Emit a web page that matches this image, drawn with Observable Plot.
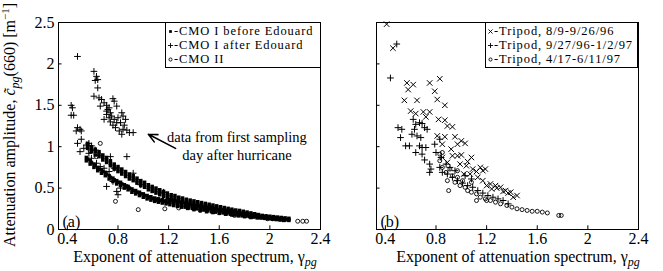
<!DOCTYPE html>
<html><head><meta charset="utf-8">
<script src="https://cdn.jsdelivr.net/npm/d3@7"></script>
<script src="https://cdn.jsdelivr.net/npm/@observablehq/plot@0.6"></script>
<style>
body{margin:0;background:#fff;}
#fig{position:relative;width:663px;height:271px;font-family:'Liberation Serif','DejaVu Serif',serif;color:#000;overflow:hidden;}
.panel{position:absolute;top:0;}
.legend{position:absolute;border:1px solid #000;background:#fff;font-size:12.5px;letter-spacing:0.9px;line-height:14px;padding:1px 0 1px 1px;box-sizing:border-box;white-space:nowrap;}
.legend .row{display:flex;align-items:center;height:14px;}
.legend svg{flex:none;}
</style></head><body><div id="fig"></div>
<script>
// ---- axes ----
const xTicks = [0.4, 0.8, 1.2, 1.6, 2, 2.4];
const yTicks = [0, 0.5, 1, 1.5, 2, 2.5];
const xDomain = [0.33, 2.4];
const yDomain = [0, 2.5];

// ---- panel (a) data ----
const cmoBefore = [
[0.56,1.04],[0.56,1.01],[0.56,0.98],[0.59,1.00],[0.59,0.97],[0.59,0.94],[0.62,0.97],[0.62,0.94],[0.62,0.90],
[0.65,0.94],[0.65,0.91],[0.65,0.88],[0.68,0.90],[0.68,0.87],[0.68,0.84],[0.71,0.87],[0.71,0.84],[0.71,0.81],
[0.74,0.83],[0.74,0.80],[0.74,0.77],[0.77,0.79],[0.77,0.76],[0.77,0.73],[0.80,0.76],[0.80,0.73],[0.80,0.70],
[0.83,0.73],[0.83,0.70],[0.83,0.67],[0.86,0.70],[0.86,0.67],[0.86,0.64],[0.89,0.67],[0.89,0.64],[0.89,0.61],
[0.92,0.65],[0.92,0.62],[0.92,0.59],[0.95,0.62],[0.95,0.59],[0.95,0.56],[0.98,0.59],[0.98,0.56],[0.98,0.53],
[1.01,0.57],[1.01,0.54],[1.01,0.51],[1.04,0.54],[1.04,0.51],[1.04,0.48],[1.07,0.52],[1.07,0.49],[1.07,0.46],
[1.10,0.50],[1.10,0.47],[1.10,0.44],[1.13,0.48],[1.13,0.45],[1.13,0.42],[1.16,0.46],[1.16,0.43],[1.16,0.40],
[1.19,0.44],[1.19,0.41],[1.19,0.38],[1.22,0.42],[1.22,0.39],[1.22,0.36],[1.25,0.41],[1.25,0.38],[1.25,0.35],
[1.28,0.39],[1.28,0.365],[1.28,0.34],[1.31,0.38],[1.31,0.355],[1.31,0.33],[1.34,0.365],[1.34,0.34],[1.34,0.315],
[1.37,0.355],[1.37,0.33],[1.37,0.305],[1.40,0.345],[1.40,0.32],[1.40,0.295],[1.43,0.335],[1.43,0.31],[1.43,0.285],
[1.46,0.325],[1.46,0.30],[1.46,0.275],[1.49,0.315],[1.49,0.29],[1.49,0.265],[1.52,0.305],[1.52,0.28],[1.52,0.255],
[1.55,0.295],[1.55,0.27],[1.55,0.245],[1.58,0.285],[1.58,0.26],[1.58,0.24],[1.61,0.275],[1.61,0.25],[1.61,0.23],
[1.64,0.265],[1.64,0.24],[1.64,0.22],[1.67,0.255],[1.67,0.235],[1.67,0.215],[1.70,0.245],[1.70,0.225],[1.70,0.205],
[1.73,0.235],[1.73,0.215],[1.73,0.195],[1.76,0.23],[1.76,0.21],[1.76,0.19],[1.79,0.22],[1.79,0.20],[1.79,0.18],
[1.82,0.21],[1.82,0.19],[1.82,0.175],[1.85,0.20],[1.85,0.18],[1.85,0.165],[1.88,0.19],[1.88,0.175],[1.88,0.16],
[1.91,0.18],[1.91,0.165],[1.91,0.15],[1.94,0.17],[1.94,0.155],[1.94,0.145],[1.97,0.165],[1.97,0.15],[1.97,0.14],
[2.00,0.16],[2.00,0.145],[2.00,0.135],[2.03,0.155],[2.03,0.14],[2.03,0.13],[2.06,0.15],[2.06,0.135],[2.06,0.125],
[2.09,0.145],[2.09,0.13],[2.09,0.12],[2.12,0.14],[2.12,0.125],[2.12,0.115],[2.15,0.135],[2.15,0.12],[2.15,0.11],
[0.55,0.87],[0.55,0.83],[0.58,0.83],[0.58,0.79],[0.61,0.79],[0.61,0.75],[0.64,0.75],[0.64,0.71],[0.67,0.72],[0.67,0.68],
[0.70,0.69],[0.70,0.65],[0.73,0.65],[0.73,0.61],[0.76,0.62],[0.76,0.58],[0.79,0.59],[0.79,0.55],[0.82,0.57],[0.82,0.53],
[0.85,0.54],[0.85,0.50],[0.88,0.52],[0.88,0.48],[0.91,0.49],[0.91,0.45],[0.94,0.47],[0.94,0.43],[0.97,0.45],[0.97,0.41],
[1.00,0.43],[1.00,0.39],[1.03,0.41],[1.03,0.37],[1.06,0.395],[1.06,0.355],[1.09,0.38],[1.09,0.34],[1.12,0.37],[1.12,0.33],
[1.15,0.36],[1.15,0.32],[1.18,0.35],[1.18,0.31],[1.21,0.34],[1.21,0.30],[1.24,0.33],[1.24,0.29],[1.27,0.32],[1.27,0.28],
[1.30,0.31],[1.30,0.27],[1.35,0.295],[1.35,0.255],[1.40,0.28],[1.40,0.24],[1.45,0.27],[1.45,0.23],[1.50,0.255],[1.50,0.215],
[1.55,0.245],[1.55,0.205],[1.60,0.235],[1.60,0.195],[1.65,0.225],[1.65,0.185],[1.70,0.215],[1.70,0.175],[1.75,0.205],[1.75,0.165],
[1.80,0.195],[1.80,0.155],[1.85,0.185],[1.85,0.145],[1.90,0.175],[1.90,0.14],
[0.56,0.85],[0.59,0.81],[0.62,0.77],[0.65,0.73],[0.68,0.70],[0.71,0.67],[0.74,0.63],[0.77,0.60],[0.80,0.57],[0.83,0.55],
[0.86,0.52],[0.89,0.50],[0.92,0.47],[0.95,0.45],[0.98,0.43],[1.01,0.41],[1.04,0.39],[1.07,0.375],[1.10,0.36],[1.13,0.35],
[1.16,0.34],[1.19,0.33],
[1.21,0.36],[1.21,0.33],[1.24,0.35],[1.24,0.32],[1.27,0.34],[1.27,0.31],[1.30,0.33],[1.30,0.30],[1.33,0.32],[1.33,0.29],
[1.33,0.27],[1.36,0.31],[1.36,0.285],[1.36,0.26],[1.39,0.30],[1.39,0.275],[1.39,0.255],[1.42,0.29],[1.42,0.27],[1.42,0.25],
[1.45,0.285],[1.45,0.26],[1.48,0.275],[1.48,0.25],[1.48,0.235],[1.51,0.265],[1.51,0.245],[1.51,0.225],[1.54,0.26],[1.54,0.235],
[1.54,0.215],[1.57,0.25],[1.57,0.23],[1.57,0.21],[1.60,0.24],[1.60,0.22],[1.63,0.235],[1.63,0.215],[1.63,0.20],[1.66,0.225],
[1.66,0.205],[1.66,0.19],[1.69,0.215],[1.69,0.20],[1.69,0.185],[1.72,0.21],[1.72,0.19],[1.72,0.175],[1.75,0.20],[1.75,0.185],
[1.78,0.195],[1.78,0.18],[1.78,0.165],[1.81,0.185],[1.81,0.17],[1.81,0.16],[1.84,0.18],[1.84,0.165],[1.84,0.155],[1.87,0.17],
[1.87,0.16],[1.87,0.15],[1.90,0.165],[1.90,0.15],[1.93,0.16],[1.93,0.145],[1.93,0.14],[1.96,0.155],[1.96,0.14],[1.96,0.135],
[1.99,0.15],[1.99,0.14],[1.99,0.13],[2.02,0.145],[2.02,0.135],[2.02,0.125],[2.05,0.14],[2.05,0.13],[2.05,0.12],[2.08,0.135],
[2.08,0.125],[2.08,0.115],[2.11,0.13],[2.11,0.12],[2.11,0.11]
];
const cmoAfter = [
[0.48,2.09],[0.61,1.91],[0.63,1.85],[0.64,1.81],[0.62,1.80],[0.64,1.71],[0.61,1.61],[0.65,1.59],[0.67,1.57],[0.69,1.53],
[0.71,1.50],[0.76,1.58],[0.77,1.55],[0.79,1.49],[0.73,1.47],[0.71,1.43],[0.74,1.41],[0.71,1.39],[0.75,1.37],[0.73,1.35],
[0.69,1.33],[0.77,1.33],[0.79,1.29],[0.76,1.26],[0.83,1.41],[0.84,1.37],[0.86,1.33],[0.82,1.29],[0.85,1.26],[0.84,1.21],
[0.81,1.19],[0.87,1.20],[0.89,1.17],[0.92,1.17],[0.83,1.15],[0.78,1.23],[0.80,1.35],[0.72,1.45],[0.66,1.49],[0.74,1.30],
[0.43,1.50],[0.44,1.47],[0.43,1.38],[0.45,1.38],[0.48,1.23],[0.50,1.21],[0.47,1.19],[0.51,1.19],[0.48,1.04],[0.51,1.09],
[0.55,1.02],[0.53,0.98],[0.57,1.04],[0.59,1.01],[0.62,0.96],[0.50,0.94],[0.57,0.92],[0.59,0.86],[0.63,0.80],[0.66,0.76],
[0.69,0.74],[0.73,0.70],[0.71,0.52],[0.79,0.46],[0.80,0.42],[0.82,0.50],[0.76,0.58],[0.87,0.88],[0.74,0.88],[0.77,0.74],
[0.92,0.68],[0.98,0.54],[1.16,0.45]
];
const cmoII = [
[0.66,1.04],[0.78,0.34],[0.96,0.24],[1.17,0.25],[1.28,0.26],[2.22,0.10],[2.26,0.10],[2.29,0.10],[1.98,0.13],[2.02,0.13],
[1.45,0.23],[1.72,0.17],[1.11,0.36],[0.87,0.52],[0.63,0.88],[0.58,0.95]
];

// ---- panel (b) data ----
const tripodAug = [
[0.41,2.48],[0.46,2.19],[0.57,1.77],[0.62,1.75],[0.58,1.69],[0.75,1.77],[0.83,1.82],[0.79,1.67],[0.55,1.56],[0.65,1.56],
[0.81,1.57],[0.87,1.50],[0.70,1.42],[0.75,1.42],[0.72,1.36],[0.82,1.33],[0.87,1.32],[0.93,1.24],[0.89,1.25],[0.81,1.13],
[0.87,1.12],[0.95,1.12],[1.00,1.07],[1.03,1.04],[0.97,1.03],[0.85,1.03],[0.97,0.89],[0.93,0.89],[1.00,0.90],[1.08,0.87],
[0.85,0.87],[0.89,0.81],[0.99,0.79],[1.04,0.77],[1.09,0.73],[1.15,0.75],[1.17,0.71],[1.19,0.73],[1.02,0.67],[1.07,0.67],
[1.13,0.63],[1.17,0.59],[1.23,0.55],[1.27,0.53],[1.31,0.51],[1.35,0.47],[1.39,0.45],[1.41,0.39],[1.20,0.53],[1.24,0.49],
[0.60,1.43],[0.64,1.40],[0.92,0.97],[1.05,0.82],[1.12,0.70],[1.28,0.50],[1.33,0.46],[1.37,0.44],[1.44,0.41]
];
const tripodSep = [
[0.49,2.24],[0.44,1.83],[0.50,1.23],[0.53,1.21],[0.52,1.11],[0.56,1.01],[0.59,1.01],[0.61,1.15],[0.63,1.21],[0.64,1.27],
[0.62,1.33],[0.67,1.29],[0.69,1.28],[0.71,1.23],[0.73,1.21],[0.65,1.13],[0.68,1.11],[0.67,1.01],[0.69,0.99],[0.72,0.99],
[0.64,0.93],[0.69,0.91],[0.71,0.84],[0.75,0.79],[0.76,0.73],[0.75,0.69],[0.79,1.03],[0.83,1.09],[0.80,0.93],[0.84,0.87],
[0.88,0.79],[0.91,0.75],[0.95,0.71],[0.83,0.75],[0.85,0.69],[0.89,0.67],[0.93,0.63],[0.97,0.59],[1.01,0.56],[1.05,0.53],
[1.09,0.51],[1.13,0.47],[1.17,0.44],[1.21,0.41],[1.25,0.39],[1.29,0.37],[1.33,0.35],[1.37,0.31],[1.03,0.65],[1.08,0.61]
];
const tripodApr = [
[0.83,0.83],[0.85,0.75],[0.88,0.69],[0.91,0.73],[0.89,0.59],[0.90,0.47],[0.93,0.65],[0.97,0.63],[0.95,0.57],[0.99,0.53],
[1.03,0.51],[1.05,0.47],[1.08,0.45],[1.12,0.43],[1.15,0.39],[1.19,0.37],[1.23,0.35],[1.27,0.33],[1.31,0.31],[1.36,0.29],
[1.40,0.27],[1.44,0.25],[1.48,0.24],[1.52,0.23],[1.56,0.22],[1.60,0.22],[1.64,0.21],[1.68,0.20],[1.77,0.17],[1.79,0.17],
[1.12,0.35],[1.20,0.35],[1.01,0.59],[1.08,0.57],[0.97,0.71],[0.83,0.91],[0.85,0.93]
];

// ---- text ----
const legendA = ["-CMO I before Edouard", "-CMO I after Edouard", "-CMO II"];
const legendB = ["-Tripod, 8/9-9/26/96", "-Tripod, 9/27/96-1/2/97", "-Tripod, 4/17-6/11/97"];
const annotationLines = [{text: "data from first sampling", x: 1.74, y: 1.11}, {text: "day after hurricane", x: 1.74, y: 0.90}];
const annotationArrow = [{x1: 1.255, y1: 0.98, x2: 1.04, y2: 1.15}];

const FONT = "'Liberation Serif','DejaVu Serif',serif";
const px = d => d[0], py = d => d[1];

function panel({width, marginLeft, marginRight, showY, label, series, extra = []}) {
  return Plot.plot({
    width, height: 271, marginLeft, marginRight, marginTop: 22, marginBottom: 42,
    style: {fontFamily: FONT, fontSize: "16px", color: "#000", background: "transparent", overflow: "visible"},
    x: {domain: xDomain, ticks: xTicks, tickSize: 0, tickPadding: 3, label: null, tickFormat: d => String(d)},
    y: showY ? {domain: yDomain, ticks: yTicks, tickSize: 0, tickPadding: 4, label: null, tickFormat: d => String(d)}
             : {domain: yDomain, axis: null},
    marks: [
      Plot.ruleX(xTicks, {y1: 0, y2: 0.045, stroke: "#000"}),
      Plot.ruleY(yTicks, {x1: xDomain[0], x2: xDomain[0] + 0.028, stroke: "#000"}),
      ...series,
      ...extra,
      Plot.text([label], {frameAnchor: "bottom-left", dx: 4, dy: -3, textAnchor: "start", lineAnchor: "bottom", fontSize: 16, fill: "#000"}),
      Plot.frame({stroke: "#000", strokeWidth: 1})
    ]
  });
}

const sq = {symbol: "square", fill: "#000", r: 2.0};
const plus = {symbol: "plus", stroke: "#000", fill: "none", r: 2.3, strokeWidth: 1};
const times = {symbol: "times", stroke: "#000", fill: "none", r: 2.6, strokeWidth: 1};
const circ = {symbol: "circle", stroke: "#000", fill: "none", r: 2.0, strokeWidth: 0.9};

const plotA = panel({
  width: 340, marginLeft: 58, marginRight: 20, showY: true, label: "(a)",
  series: [
    Plot.dot(cmoBefore, {x: px, y: py, ...sq}),
    Plot.dot(cmoAfter, {x: px, y: py, ...plus}),
    Plot.dot(cmoII, {x: px, y: py, ...circ})
  ],
  extra: [
    Plot.text(annotationLines, {x: "x", y: "y", text: "text", fontSize: 14.5, fill: "#000", textAnchor: "middle"}),
    Plot.arrow(annotationArrow, {x1: "x1", y1: "y1", x2: "x2", y2: "y2", stroke: "#000", strokeWidth: 1.6, headLength: 9, headAngle: 50})
  ]
});
const plotB = panel({
  width: 345, marginLeft: 58, marginRight: 25, showY: false, label: "(b)",
  series: [
    Plot.dot(tripodAug, {x: px, y: py, ...times}),
    Plot.dot(tripodSep, {x: px, y: py, ...plus}),
    Plot.dot(tripodApr, {x: px, y: py, ...circ})
  ]
});

const fig = document.getElementById("fig");
plotA.classList.add("panel"); plotA.style.left = "0px";
plotB.classList.add("panel"); plotB.style.left = "318px";
fig.appendChild(plotA); fig.appendChild(plotB);

// axis titles
const xTitle = 'Exponent of attenuation spectrum, γ<tspan font-style="italic" font-size="12" dy="4">pg</tspan>';
function addText(svg, x, y, html, rotate, size) {
  const t = document.createElementNS("http://www.w3.org/2000/svg", "text");
  t.setAttribute("x", x); t.setAttribute("y", y);
  t.setAttribute("text-anchor", "middle");
  t.setAttribute("font-family", FONT); t.setAttribute("font-size", size || "16"); t.setAttribute("fill", "#000");
  if (rotate) t.setAttribute("transform", `rotate(-90 ${x} ${y})`);
  t.innerHTML = html;
  svg.appendChild(t);
}
addText(plotA, 195, 262, xTitle);
addText(plotB, 200, 262, xTitle);
addText(plotA, 15, 125,
  'Attenuation amplitude, <tspan font-style="italic">c\u0303</tspan><tspan font-style="italic" font-size="12" dy="4">pg</tspan><tspan dy="-4">(660) [m</tspan><tspan font-size="11" dy="-6">−1</tspan><tspan dy="6">]</tspan>', true, "16");

// legends
function symbolSvg(type) {
  const s = document.createElementNS("http://www.w3.org/2000/svg", "svg");
  s.setAttribute("width", 7); s.setAttribute("height", 10);
  const p = document.createElementNS("http://www.w3.org/2000/svg", "path");
  const opts = type === "square" ? sq : type === "plus" ? plus : type === "times" ? times : circ;
  const sym = {square: d3.symbolSquare, plus: d3.symbolPlus, times: d3.symbolTimes, circle: d3.symbolCircle}[type];
  p.setAttribute("d", d3.symbol(sym, Math.PI * opts.r * opts.r * 0.6)());
  p.setAttribute("transform", "translate(3.5,5.5)");
  p.setAttribute("fill", opts.fill); p.setAttribute("stroke", opts.stroke || "none");
  p.setAttribute("stroke-width", 0.9);
  s.appendChild(p);
  return s;
}
function legend(items, symbols, left, top, width) {
  const box = document.createElement("div");
  box.className = "legend";
  box.style.left = left + "px"; box.style.top = top + "px"; box.style.width = width + "px"; box.style.height = "46px";
  items.forEach((txt, i) => {
    const row = document.createElement("div"); row.className = "row";
    row.appendChild(symbolSvg(symbols[i]));
    const sp = document.createElementNS ? document.createElement("span") : null;
    sp.textContent = txt; row.appendChild(sp);
    box.appendChild(row);
  });
  fig.appendChild(box);
}
legend(legendA, ["square", "plus", "circle"], 165, 22, 156);
legend(legendB, ["times", "plus", "circle"], 485, 22, 153);
</script></body></html>
